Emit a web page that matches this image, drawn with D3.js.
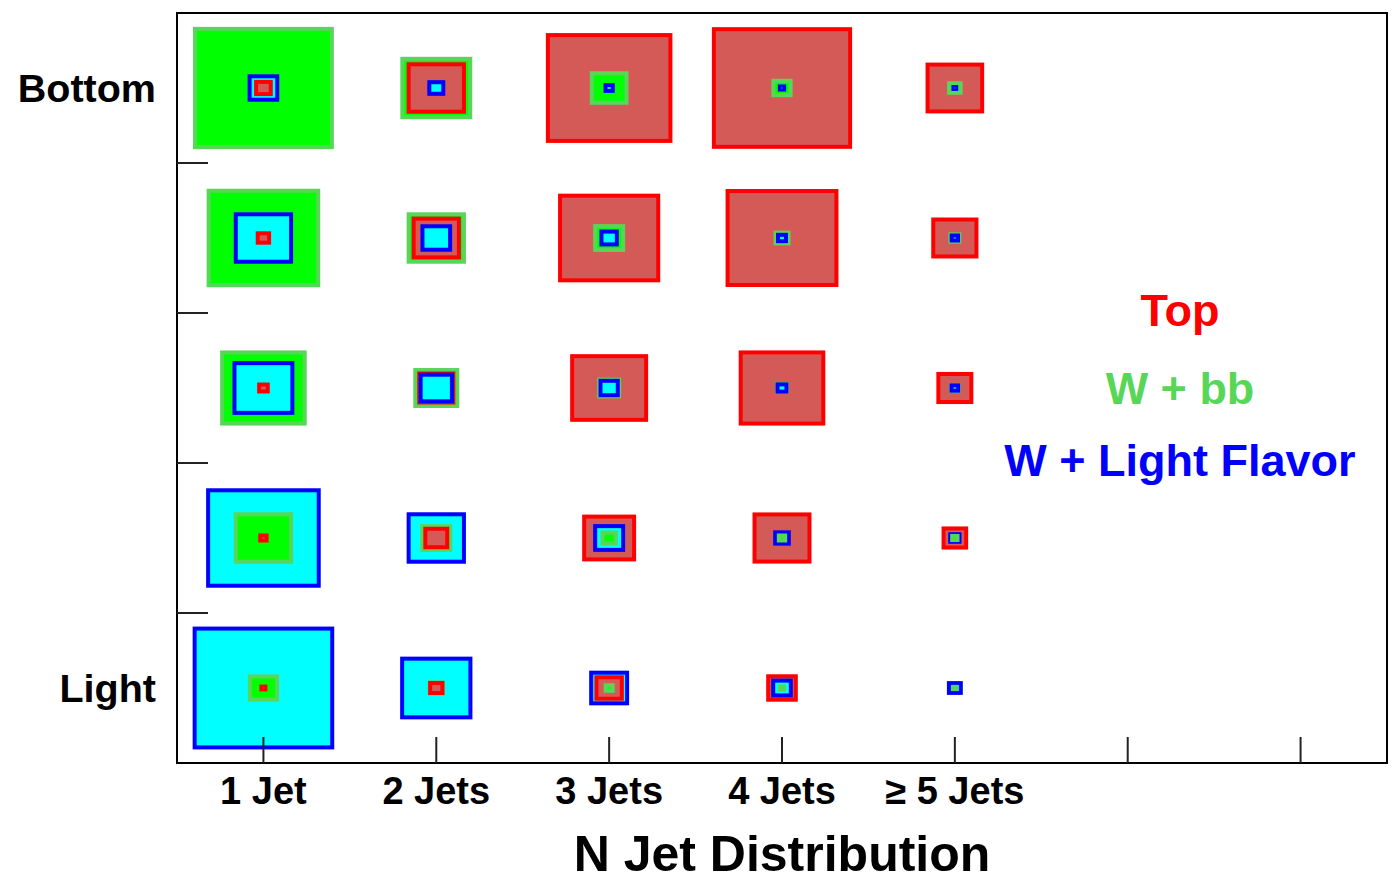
<!DOCTYPE html>
<html>
<head>
<meta charset="utf-8">
<script src="https://cdn.jsdelivr.net/npm/d3@7"></script>
<style>
  html, body { margin: 0; padding: 0; background: #ffffff; }
  svg { display: block; }
  text { font-family: "Liberation Sans", Arial, Helvetica, sans-serif; font-weight: bold; }
</style>
</head>
<body>
<svg id="chart" width="1397" height="882"></svg>
<script>
// ---------------- data ----------------
const xLabels = ["1 Jet", "2 Jets", "3 Jets", "4 Jets", "\u2265 5 Jets", "", ""];
const rowLabels = ["Bottom", "", "", "", "Light"];   // top row to bottom row
const seriesNames = ["Top", "W + bb", "W + Light Flavor"];

// relative box size (fraction of bin) per row (Bottom -> Light) and jet bin
const topValues = [
  [0.108, 0.343, 0.732, 0.811, 0.339],
  [0.089, 0.285, 0.591, 0.653, 0.273],
  [0.073, 0.220, 0.451, 0.501, 0.214],
  [0.060, 0.150, 0.312, 0.341, 0.154],
  [0.046, 0.094, 0.170, 0.183, 0.000]
];
const wbbValues = [
  [0.815, 0.416, 0.224, 0.123, 0.090],
  [0.657, 0.343, 0.185, 0.098, 0.075],
  [0.501, 0.266, 0.139, 0.081, 0.068],
  [0.343, 0.185, 0.100, 0.060, 0.054],
  [0.181, 0.100, 0.064, 0.048, 0.042]
];
const wlfValues = [
  [0.183, 0.104, 0.065, 0.048, 0.039],
  [0.343, 0.183, 0.112, 0.069, 0.060],
  [0.358, 0.204, 0.123, 0.075, 0.062],
  [0.663, 0.343, 0.185, 0.102, 0.077],
  [0.819, 0.418, 0.231, 0.125, 0.092]
];

const seriesFill = ["#d35a57", "#00ff00", "#00ffff"];
const seriesLine = ["#ff0000", "#58d658", "#0000ff"];
const legendColor = ["#ff0000", "#58d658", "#0000ff"];

// ---------------- layout ----------------
const svg = d3.select("#chart");
const frame = { left: 177, right: 1387, top: 13, bottom: 763 };

const x = d3.scaleBand()
  .domain(d3.range(xLabels.length))
  .range([frame.left, frame.right])
  .paddingInner(0).paddingOuter(0);

const y = d3.scaleBand()
  .domain(d3.range(rowLabels.length))
  .range([frame.top, frame.bottom])
  .paddingInner(0).paddingOuter(0);

const sizeX = d3.scaleLinear().domain([0, 1]).range([0, x.bandwidth()]);
const sizeY = d3.scaleLinear().domain([0, 1]).range([0, y.bandwidth()]);

// build cells
const allSeries = [topValues, wbbValues, wlfValues];
const cells = [];
rowLabels.forEach((_, r) => {
  d3.range(5).forEach(c => {
    const boxes = allSeries.map((vals, s) => ({ s, r, c, v: vals[r][c] }))
      .filter(d => d.v > 0)
      .sort((a, b) => b.v - a.v);
    cells.push(...boxes);
  });
});

// boxes
const gBoxes = svg.append("g");
gBoxes.selectAll("rect")
  .data(cells)
  .join("rect")
  .each(function(d) {
    const w = sizeX(d.v), h = sizeY(d.v);
    const sw = Math.min(4, Math.min(w, h) / 2.2);
    const cx = x(d.c) + x.bandwidth() / 2;
    const cy = y(d.r) + y.bandwidth() / 2;
    d3.select(this)
      .attr("x", cx - w / 2 + sw / 2)
      .attr("y", cy - h / 2 + sw / 2)
      .attr("width", Math.max(0.1, w - sw))
      .attr("height", Math.max(0.1, h - sw))
      .attr("fill", seriesFill[d.s])
      .attr("stroke", seriesLine[d.s])
      .attr("stroke-width", sw);
  });

// frame
svg.append("rect")
  .attr("x", frame.left).attr("y", frame.top)
  .attr("width", frame.right - frame.left)
  .attr("height", frame.bottom - frame.top)
  .attr("fill", "none")
  .attr("stroke", "#000")
  .attr("stroke-width", 2);

// x ticks (bin centres, pointing up into the frame)
const xAxis = d3.axisBottom(x).tickSize(-26).tickFormat("");
const gx = svg.append("g")
  .attr("transform", `translate(0,${frame.bottom})`)
  .call(xAxis);
gx.select(".domain").remove();
gx.selectAll(".tick line").attr("stroke", "#222").attr("stroke-width", 2);

// x tick labels
svg.append("g").selectAll("text")
  .data(xLabels.map((t, i) => ({ t, i })).filter(d => d.t))
  .join("text")
  .attr("x", d => x(d.i) + x.bandwidth() / 2)
  .attr("y", 804)
  .attr("text-anchor", "middle")
  .attr("font-size", 38)
  .attr("fill", "#000")
  .text(d => d.t);

// y ticks at bin boundaries (inside the frame)
const yEdges = d3.range(1, rowLabels.length).map(i => y(i));
svg.append("g").selectAll("line")
  .data(yEdges)
  .join("line")
  .attr("x1", frame.left).attr("x2", frame.left + 31)
  .attr("y1", d => d).attr("y2", d => d)
  .attr("stroke", "#222").attr("stroke-width", 2);

// y labels
svg.append("g").selectAll("text")
  .data(rowLabels.map((t, i) => ({ t, i })).filter(d => d.t))
  .join("text")
  .attr("x", 156)
  .attr("y", d => y(d.i) + y.bandwidth() / 2 + 14)
  .attr("text-anchor", "end")
  .attr("font-size", 39.5)
  .attr("fill", "#000")
  .text(d => d.t);

// axis title
svg.append("text")
  .attr("x", 782).attr("y", 871)
  .attr("text-anchor", "middle")
  .attr("font-size", 50)
  .attr("fill", "#000")
  .text("N Jet Distribution");

// legend
const legendY = [326, 404, 476];
svg.append("g").selectAll("text")
  .data(seriesNames)
  .join("text")
  .attr("x", 1180)
  .attr("y", (d, i) => legendY[i])
  .attr("text-anchor", "middle")
  .attr("font-size", 45)
  .attr("fill", (d, i) => legendColor[i])
  .text(d => d);
</script>
</body>
</html>
